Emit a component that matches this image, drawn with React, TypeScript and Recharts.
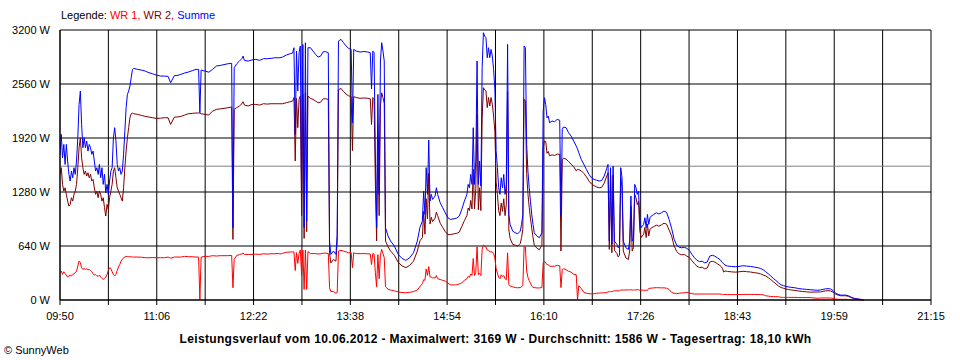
import React from 'react';

import { CartesianGrid, Line, LineChart, ReferenceLine, XAxis, YAxis } from 'recharts';

// minutes since midnight (09:50 = 590)
const times = [
  // 09:50 - 10:48
  590, 591, 592, 593, 594, 595, 596, 597, 598, 599,
  600, 601, 602, 603, 604, 605, 606, 607, 608, 609,
  610, 611, 612, 613, 614, 615, 616, 617, 618, 619,
  620, 621, 622, 623, 624, 625, 626, 627, 628, 629,
  630, 631, 632, 633, 634, 635, 636, 637, 638, 639,
  640, 641, 642, 643, 644, 645, 646, 647, 648,
  // 10:51 - 12:42
  651, 654, 657, 660, 663, 666, 669, 672, 675, 677,
  680, 682, 685, 688, 691, 694, 697, 699, 700, 701,
  704, 707, 710, 713, 716, 719, 722, 725, 726, 727,
  729, 731, 733, 734, 735, 738, 741, 744, 747, 750,
  753, 756, 759, 762,
  // 12:43 - 15:31
  763, 765, 768, 771, 773, 774, 775, 776, 777, 778,
  779, 780, 781, 782, 783, 784, 785, 787, 789, 791,
  793, 795, 797, 799, 801, 802, 803, 805, 807, 808,
  809, 811, 813, 815, 817, 819, 820, 821, 823, 826,
  829, 832, 834, 835, 836, 837, 838, 839, 840, 841,
  842, 843, 844, 845, 846, 848, 850, 853, 856, 859,
  862, 865, 868, 871, 873, 875, 876, 877, 878, 879,
  880, 881, 882, 883, 884, 885, 886, 887, 889, 891,
  893, 895, 897, 900, 902, 904, 906, 908, 910, 911,
  912, 913, 914, 915, 916, 917, 918, 919, 920, 921,
  922, 923, 924, 925, 926, 927, 928, 929, 930, 931,
  // 15:32 - 18:29
  932, 933, 934, 935, 936, 937, 938, 939, 940, 941,
  942, 943, 944, 946, 948, 950, 952, 953, 954, 955,
  956, 957, 958, 959, 960, 961, 962, 963, 965, 967,
  969, 970, 971, 972, 973, 974, 975, 977, 979, 981,
  983, 984, 985, 986, 988, 990, 992, 994, 996, 997,
  998, 1000, 1002, 1004, 1006, 1008, 1010, 1012, 1014, 1016,
  1018, 1020, 1021, 1022, 1023, 1024, 1025, 1026, 1028, 1029,
  1030, 1031, 1032, 1033, 1035, 1037, 1038, 1039, 1040, 1041,
  1042, 1043, 1044, 1045, 1046, 1047, 1049, 1050, 1051, 1052,
  1053, 1054, 1055, 1057, 1059, 1061, 1063, 1065, 1067, 1069,
  1071, 1073, 1075, 1077, 1079, 1081, 1083, 1085, 1087, 1089,
  1091, 1093, 1095, 1097, 1099, 1101, 1103, 1105, 1107, 1109,
  // 18:30 - 20:22
  1110, 1111, 1112, 1113, 1115, 1118, 1121, 1124, 1127, 1130,
  1133, 1136, 1139, 1141, 1143, 1145, 1147, 1149, 1151, 1153,
  1155, 1157, 1159, 1161, 1163, 1165, 1168, 1171, 1174, 1177,
  1180, 1183, 1186, 1188, 1190, 1192, 1194, 1196, 1198, 1200,
  1202, 1204, 1206, 1208, 1210, 1212, 1214, 1216, 1218, 1220,
  1222,
];

const summe = [
  1720, 1963, 1686, 1844, 1607, 1844, 1647, 1489, 1410, 1528,
  1449, 1568, 1489, 1647, 1923, 2318, 2476, 2081, 1805, 1923,
  1805, 1884, 1765, 1844, 1805, 1726, 1765, 1647, 1528, 1568,
  1489, 1607, 1449, 1568, 1370, 1489, 1271, 1370, 1252, 1410,
  1528, 1568, 1923, 2042, 1884, 1607, 1528, 1568, 1489, 1528,
  1726, 2002, 2279, 2437, 2476, 2536, 2634, 2733, 2745,

  2733, 2725, 2713, 2694, 2680, 2665, 2654, 2654, 2650, 2575,
  2660, 2660, 2674, 2690, 2702, 2718, 2733, 2733, 2220, 2725,
  2713, 2700, 2733, 2773, 2780, 2790, 2800, 2805, 857, 2753,
  2800, 2830, 2860, 2891, 2840, 2832, 2845, 2852, 2840, 2860,
  2860, 2864, 2871, 2871,

  2871, 2879, 2903, 2919, 2927, 2990, 1963, 2950, 2476, 2930,
  3010, 1291, 3029, 857, 3049, 935, 2990, 2990, 2950, 2911,
  2879, 2891, 2943, 2943, 2931, 698, 540, 580, 540, 777,
  3069, 3089, 3049, 3010, 2982, 2970, 2100, 2970, 2950, 2939,
  2945, 2939, 2931, 2500, 2950, 2931, 1730, 857, 2437, 1252,
  2832, 3049, 2950, 2832, 857, 758, 698, 639, 540, 493,
  469, 501, 560, 698, 857, 935, 1291, 1014, 1568, 1252,
  1896, 1172, 1252, 1192, 1212, 1232, 1330, 1252, 1153, 1093,
  1034, 975, 955, 963, 970, 995, 1074, 1172, 1252, 1370,
  1330, 1489, 1370, 2042, 1370, 1647, 2832, 1370, 1647, 1350,
  2753, 3168, 3128, 3108, 2871, 2990, 2871, 2970, 2891, 2733,

  2500, 1770, 1568, 1330, 1252, 1449, 1330, 1489, 1252, 1370,
  3029, 1014, 896, 817, 797, 785, 817, 896, 1014, 3010,
  2990, 1844, 1528, 1330, 1172, 1014, 896, 797, 758, 738,
  797, 2239, 2397, 2318, 2160, 2180, 2101, 2121, 2113, 2141,
  2130, 1000, 2022, 2050, 2042, 1982, 1943, 1884, 1824, 1790,
  1745, 1666, 1607, 1548, 1489, 1449, 1429, 1420, 1410, 1415,
  1470, 1560, 1607, 698, 1568, 659, 1587, 698, 659, 619,
  640, 1568, 1449, 698, 619, 600, 698, 1232, 698, 738,
  1370, 1330, 1252, 1291, 935, 857, 896, 975, 857, 1014,
  896, 975, 995, 1014, 1034, 1020, 1034, 1054, 1040, 955,
  850, 720, 650, 625, 619, 625, 612, 588, 540, 501,
  470, 455, 460, 440, 450, 520, 530, 520, 500, 480,

  462, 442, 430, 414, 402, 398, 394, 398, 406, 402,
  398, 390, 382, 374, 358, 335, 311, 284, 256, 232,
  204, 180, 170, 160, 155, 150, 145, 135, 130, 126,
  122, 118, 115, 120, 126, 132, 135, 130, 112, 80,
  66, 58, 58, 58, 50, 35, 23, 15, 11, 7,
  0,
];

const wr2 = [
  1488, 1568, 1370, 1291, 1330, 1252, 1172, 1113, 1133, 1212,
  1172, 1252, 1291, 1370, 1568, 1805, 1923, 1686, 1568, 1489,
  1528, 1469, 1508, 1449, 1489, 1410, 1429, 1330, 1252, 1291,
  1212, 1291, 1252, 1172, 1212, 1093, 995, 1133, 1074, 1212,
  1291, 1370, 1528, 1568, 1449, 1330, 1291, 1252, 1212, 1172,
  1330, 1568, 1765, 1923, 2042, 2160, 2208, 2215, 2208,

  2200, 2188, 2176, 2168, 2160, 2152, 2155, 2160, 2160, 2081,
  2168, 2168, 2176, 2192, 2208, 2212, 2216, 2216, 2216, 2208,
  2200, 2192, 2239, 2259, 2265, 2271, 2279, 2287, 718, 2259,
  2280, 2298, 2326, 2350, 2310, 2300, 2318, 2318, 2310, 2326,
  2322, 2326, 2326, 2326,

  2326, 2326, 2338, 2350, 2358, 2400, 1647, 2389, 2042, 2377,
  2417, 1000, 2437, 730, 2456, 810, 2417, 2390, 2377, 2358,
  2338, 2345, 2385, 2385, 2377, 552, 440, 480, 460, 690,
  2490, 2508, 2470, 2440, 2420, 2410, 1770, 2410, 2400, 2390,
  2395, 2390, 2385, 2080, 2400, 2385, 1400, 700, 1900, 1000,
  2300, 2456, 2400, 2330, 700, 630, 580, 530, 445, 405,
  383, 410, 460, 580, 700, 740, 1050, 780, 1200, 960,
  1500, 900, 980, 930, 950, 970, 1040, 1000, 910, 860,
  810, 775, 775, 785, 790, 805, 870, 940, 1000, 1090,
  1060, 1180, 1080, 1550, 1080, 1320, 2200, 1070, 1330, 1060,
  2150, 2516, 2490, 2480, 2280, 2400, 2300, 2400, 2320, 2180,

  2000, 1400, 1250, 1060, 1000, 1150, 1050, 1200, 1000, 1130,
  2470, 830, 730, 660, 650, 640, 670, 740, 840, 2380,
  2360, 1500, 1260, 1100, 970, 850, 745, 650, 615, 595,
  650, 1800, 1885, 1880, 1740, 1760, 1710, 1720, 1713, 1730,
  1725, 580, 1660, 1680, 1670, 1640, 1610, 1580, 1530, 1550,
  1545, 1530, 1500, 1460, 1410, 1375, 1355, 1340, 1330, 1335,
  1385, 1470, 1510, 600, 1470, 560, 1480, 590, 550, 510,
  530, 1450, 1330, 580, 500, 480, 580, 1110, 580, 620,
  1250, 1210, 1130, 1170, 820, 740, 780, 860, 740, 900,
  760, 835, 855, 870, 888, 875, 890, 910, 900, 830,
  760, 640, 575, 545, 535, 540, 520, 505, 465, 430,
  400, 384, 389, 369, 379, 449, 459, 449, 429, 409,

  395, 375, 330, 345, 338, 334, 330, 334, 340, 336,
  332, 324, 318, 310, 296, 285, 265, 242, 216, 192,
  166, 148, 139, 129, 124, 119, 114, 106, 101, 97,
  93, 94, 95, 96, 102, 108, 111, 106, 93, 68,
  58, 50, 50, 50, 44, 30, 20, 13, 10, 6,
  0,
];

const wr1 = [
  323, 343, 303, 335, 311, 295, 272, 284, 295, 284,
  303, 311, 323, 343, 402, 461, 441, 382, 362, 374,
  362, 370, 358, 362, 351, 335, 311, 295, 303, 288,
  280, 295, 272, 256, 244, 256, 272, 303, 351, 382,
  374, 335, 303, 284, 303, 351, 390, 421, 461, 481,
  501, 509, 517, 515, 513, 513, 511, 510, 509,

  509, 507, 501, 501, 503, 501, 501, 501, 509, 495,
  509, 509, 509, 517, 513, 513, 509, 509, 5, 509,
  517, 517, 525, 521, 525, 525, 525, 529, 145, 481,
  529, 536, 548, 556, 540, 540, 540, 544, 540, 548,
  544, 548, 548, 552,

  545, 553, 565, 569, 569, 570, 350, 561, 434, 553,
  593, 290, 592, 125, 593, 125, 573, 550, 550, 550,
  545, 548, 555, 555, 552, 146, 100, 100, 80, 87,
  580, 588, 580, 570, 560, 560, 383, 560, 550, 549,
  550, 548, 545, 420, 550, 545, 330, 157, 537, 252,
  532, 599, 550, 502, 157, 128, 118, 109, 95, 88,
  86, 91, 100, 118, 157, 195, 240, 234, 368, 292,
  396, 272, 272, 262, 262, 262, 290, 252, 243, 233,
  224, 200, 180, 178, 180, 190, 204, 232, 252, 280,
  270, 309, 290, 492, 290, 327, 630, 300, 317, 290,
  603, 652, 638, 628, 591, 590, 571, 570, 571, 553,

  500, 370, 318, 270, 252, 299, 280, 289, 252, 240,
  559, 184, 166, 157, 147, 145, 147, 156, 174, 630,
  630, 344, 268, 230, 202, 164, 151, 147, 143, 143,
  147, 439, 462, 438, 420, 420, 400, 400, 400, 411,
  405, 146, 362, 370, 360, 340, 330, 305, 300, 5,
  170, 136, 90, 80, 75, 72, 74, 80, 82, 84,
  86, 88, 97, 98, 98, 99, 107, 108, 109, 109,
  110, 118, 119, 118, 119, 120, 118, 122, 118, 118,
  120, 120, 122, 121, 115, 117, 116, 115, 117, 114,
  136, 140, 140, 144, 146, 145, 144, 144, 140, 125,
  90, 80, 75, 80, 84, 85, 92, 83, 75, 71,
  71, 71, 71, 71, 71, 71, 71, 71, 71, 71,

  67, 67, 66, 66, 64, 64, 64, 64, 66, 66,
  66, 66, 64, 64, 62, 50, 46, 42, 40, 40,
  38, 32, 31, 31, 31, 31, 31, 29, 29, 29,
  29, 24, 20, 24, 24, 24, 24, 24, 19, 12,
  8, 8, 8, 8, 6, 5, 3, 2, 1, 1,
  0,
];

const timeLabels = ['09:50', '11:06', '12:22', '13:38', '14:54', '16:10', '17:26', '18:43', '19:59', '21:15'];
const powerTicks = [0, 640, 1280, 1920, 2560, 3200];
const average = 1586;

const START = 590;
const END = 1275;
const FONT = '"Liberation Sans", Arial, sans-serif';

const halfStep = (END - START) / (timeLabels.length - 1) / 2;
const xTicks = Array.from({ length: timeLabels.length * 2 - 1 }, (_, i) => START + i * halfStep);

const data = times.map((t, i) => ({ t, wr1: wr1[i], wr2: wr2[i], summe: summe[i] }));

const formatTime = (v: number) => {
  const i = Math.round((v - START) / halfStep);
  return i % 2 === 0 ? timeLabels[i / 2] : '';
};

export default function App() {
  return (
    <div style={{ position: 'absolute', left: 0, top: 0, width: 960, height: 360, background: '#fff', fontFamily: FONT }}>
      <LineChart data={data} height={360} margin={{ bottom: 30, left: 0, right: 29, top: 30 }} width={960}>
        <CartesianGrid stroke="#000" />
        <XAxis
          allowDataOverflow
          axisLine={{ stroke: '#000' }}
          dataKey="t"
          domain={[START, END]}
          height={30}
          interval={0}
          tick={{ fill: '#000', fontFamily: FONT, fontSize: 11 }}
          tickFormatter={formatTime}
          tickLine={{ stroke: '#000' }}
          tickMargin={7}
          tickSize={5}
          ticks={xTicks}
          type="number"
        />
        <YAxis
          axisLine={{ stroke: '#000' }}
          domain={[0, 3200]}
          interval={0}
          tick={{ fill: '#000', fontFamily: FONT, fontSize: 11 }}
          tickFormatter={(v: number) => `${v} W`}
          tickLine={false}
          tickMargin={2}
          tickSize={8}
          ticks={powerTicks}
          type="number"
          width={60}
        />
        <ReferenceLine stroke="#808080" y={average} />
        <Line dataKey="wr1" dot={false} isAnimationActive={false} stroke="#ff0000" strokeWidth={1} type="linear" />
        <Line dataKey="wr2" dot={false} isAnimationActive={false} stroke="#800000" strokeWidth={1} type="linear" />
        <Line dataKey="summe" dot={false} isAnimationActive={false} stroke="#0000ff" strokeWidth={1} type="linear" />
      </LineChart>
      <div style={{ position: 'absolute', left: 61, top: 9, fontSize: 11, lineHeight: '13px', whiteSpace: 'nowrap' }}>
        Legende: <span style={{ color: '#ff0000' }}>WR 1,</span> <span style={{ color: '#800000' }}>WR 2,</span>{' '}
        <span style={{ color: '#0000ff' }}>Summe</span>
      </div>
      <div
        style={{
          position: 'absolute',
          left: 60,
          top: 332,
          width: 871,
          fontSize: 12,
          fontWeight: 'bold',
          letterSpacing: '0.35px',
          lineHeight: '14px',
          textAlign: 'center',
          whiteSpace: 'nowrap',
        }}
      >
        Leistungsverlauf vom 10.06.2012 - Maximalwert: 3169 W - Durchschnitt: 1586 W - Tagesertrag: 18,10 kWh
      </div>
      <div style={{ position: 'absolute', left: 4, top: 344, fontSize: 11, lineHeight: '13px', whiteSpace: 'nowrap' }}>
        © SunnyWeb
      </div>
    </div>
  );
}
